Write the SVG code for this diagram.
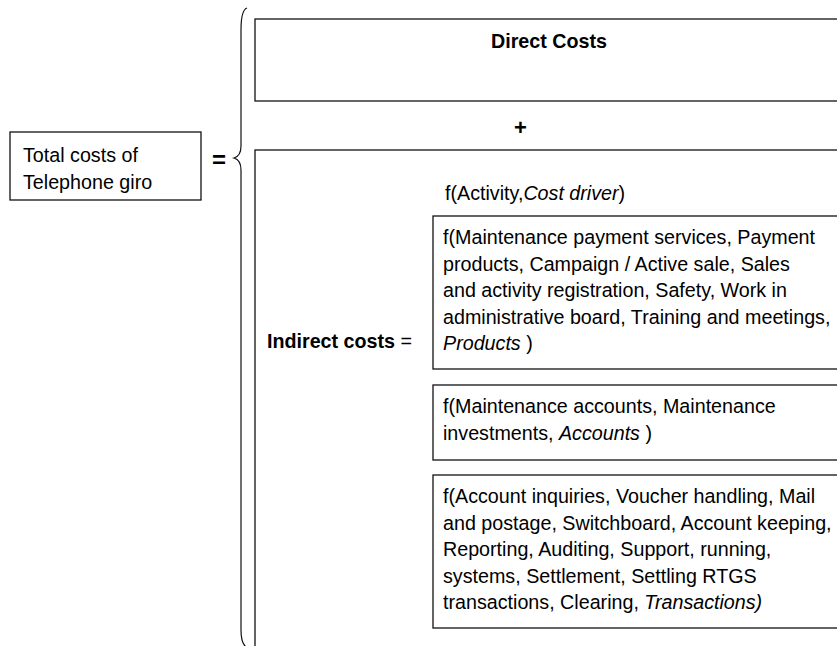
<svg xmlns="http://www.w3.org/2000/svg" width="837" height="646" viewBox="0 0 837 646">
<style>
.box{fill:#fff;stroke:#111;stroke-width:1.3}
.br{fill:none;stroke:#111;stroke-width:1.2}
text{font-family:"Liberation Sans",Arial,sans-serif;font-size:19.7px;fill:#000}
.b{font-weight:bold}
.i{font-style:italic}
</style>
<rect width="837" height="646" fill="#fff"/>
<g id="total">
<rect class="box" x="10" y="132" width="191" height="68"/>
<text x="23" y="162">Total costs of</text>
<text x="23" y="189">Telephone giro</text>
</g>
<g id="equals"><text class="b" x="212" y="168" style="font-size:24px">=</text></g>
<g id="connectors">
<path class="br" d="M247,8 Q241,10 241,30 L241,146 Q241,156 234,158 Q241,160 241,170 L241,630 Q241,643 246,647"/>
<path class="br" d="M428,225 Q422,227 422,240 L422,331 Q422,340 415,342 Q422,344 422,353 L422,620 Q422,633 428,636"/>
</g>
<g id="direct">
<rect class="box" x="255" y="19" width="590" height="82"/>
<text class="b" x="491" y="48">Direct Costs</text>
</g>
<g id="plus"><text class="b" x="514" y="135" style="font-size:22px">+</text></g>
<g id="indirect">
<rect class="box" x="255" y="150" width="590" height="520"/>
<text x="445" y="200">f(Activity,<tspan class="i">Cost driver</tspan>)</text>
<text x="267" y="348"><tspan class="b">Indirect costs</tspan> =</text>
</g>
<g id="products">
<rect class="box" x="433" y="216" width="410" height="153"/>
<text x="443" y="244">f(Maintenance payment services, Payment</text>
<text x="443" y="270.5">products, Campaign /  Active sale, Sales</text>
<text x="443" y="297">and activity registration, Safety, Work in</text>
<text x="443" y="323.5">administrative board, Training and meetings,</text>
<text x="443" y="350"><tspan class="i">Products</tspan> )</text>
</g>
<g id="accounts">
<rect class="box" x="433" y="385" width="410" height="75"/>
<text x="443" y="413">f(Maintenance accounts, Maintenance</text>
<text x="443" y="439.5">investments, <tspan class="i">Accounts</tspan> )</text>
</g>
<g id="transactions">
<rect class="box" x="433" y="475" width="410" height="153"/>
<text x="443" y="503">f(Account inquiries, Voucher handling, Mail</text>
<text x="443" y="529.5">and postage, Switchboard, Account keeping,</text>
<text x="443" y="556">Reporting, Auditing, Support, running,</text>
<text x="443" y="582.5">systems, Settlement, Settling RTGS</text>
<text x="443" y="609">transactions, Clearing, <tspan class="i">Transactions)</tspan></text>
</g>
</svg>
